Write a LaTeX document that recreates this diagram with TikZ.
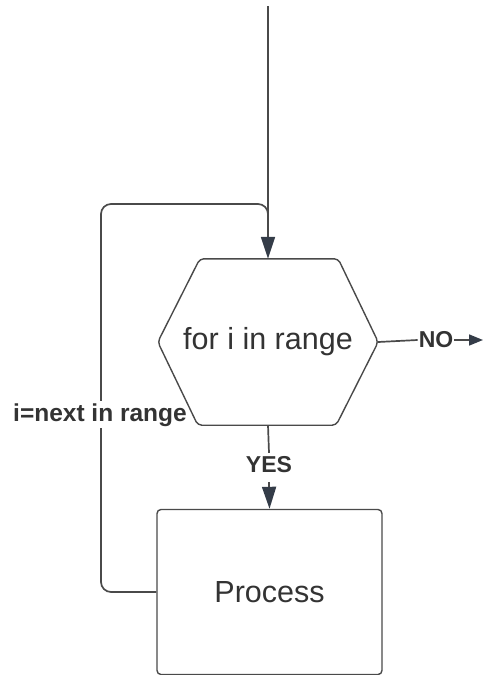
\documentclass[tikz,border=0pt]{standalone}
\usepackage{fontspec}
\setmainfont{Liberation Sans}
\usetikzlibrary{arrows.meta}
\definecolor{linec}{HTML}{4A4A4A}
\definecolor{tipc}{HTML}{343C48}
\definecolor{txtc}{HTML}{333333}
\begin{document}
\begin{tikzpicture}[x=1pt,y=-1pt,
  conn/.style={draw=linec, line width=1.7pt},
  bigtip/.style={-{Triangle[length=22pt,width=14pt,fill=tipc,color=tipc]}},
  smalltip/.style={-{Triangle[length=14pt,width=11pt,fill=tipc,color=tipc]}},
  shapeline/.style={draw=linec, line width=1.4pt},
  bigtxt/.style={text=txtc, font=\fontsize{30.5}{34}\selectfont},
  lbl/.style={text=txtc, font=\bfseries\fontsize{23}{27}\selectfont}
]
\useasboundingbox (0,0) rectangle (483,675);

% hexagon (decision) node, outline drawn later
\node[bigtxt, minimum width=220pt, minimum height=166pt, inner sep=0pt] (hex) at (268,342) {for i in range};

% process box
\node[bigtxt, shapeline, rounded corners=4pt, minimum width=225pt, minimum height=165pt, inner sep=0pt] (proc) at (269.5,592) {Process};

% loop back
\coordinate (lc1) at (101,204);
\coordinate (lc2) at (268,232);
\draw[conn, rounded corners=10pt] (proc.west) -| (lc1) -| (lc2);
\node[lbl, fill=white, inner xsep=1pt, inner ysep=2pt, font=\bfseries\fontsize{24.5}{28}\selectfont, anchor=base] (lab) at (100,421) {i=next in range};

% hexagon outline
\draw[shapeline, rounded corners=4pt]
  ([xshift=42pt]hex.north west) -- ([xshift=-40pt]hex.north east) -- (hex.east)
  -- ([xshift=-42pt]hex.south east) -- ([xshift=40pt]hex.south west) -- (hex.west) -- cycle;

% top incoming line
\coordinate (top) at (268,6);
\draw[conn, bigtip] (top) -- (hex.north);

% YES branch
\node[lbl, text height=16pt, text depth=0pt, inner sep=0pt, anchor=base] (yes) at (269,472) {YES};
\draw[conn] (hex.south) -- ([yshift=3pt]yes.north);
\draw[conn, bigtip] ([yshift=-10pt]yes.south) -- (proc.north);

% NO branch
\node[lbl, inner xsep=1pt] (no) at (436,340) {NO};
\coordinate (noend) at (483,340);
\draw[conn] (hex.east) -- (no.west);
\draw[conn, smalltip] (no.east) -- (noend);
\end{tikzpicture}
\end{document}
